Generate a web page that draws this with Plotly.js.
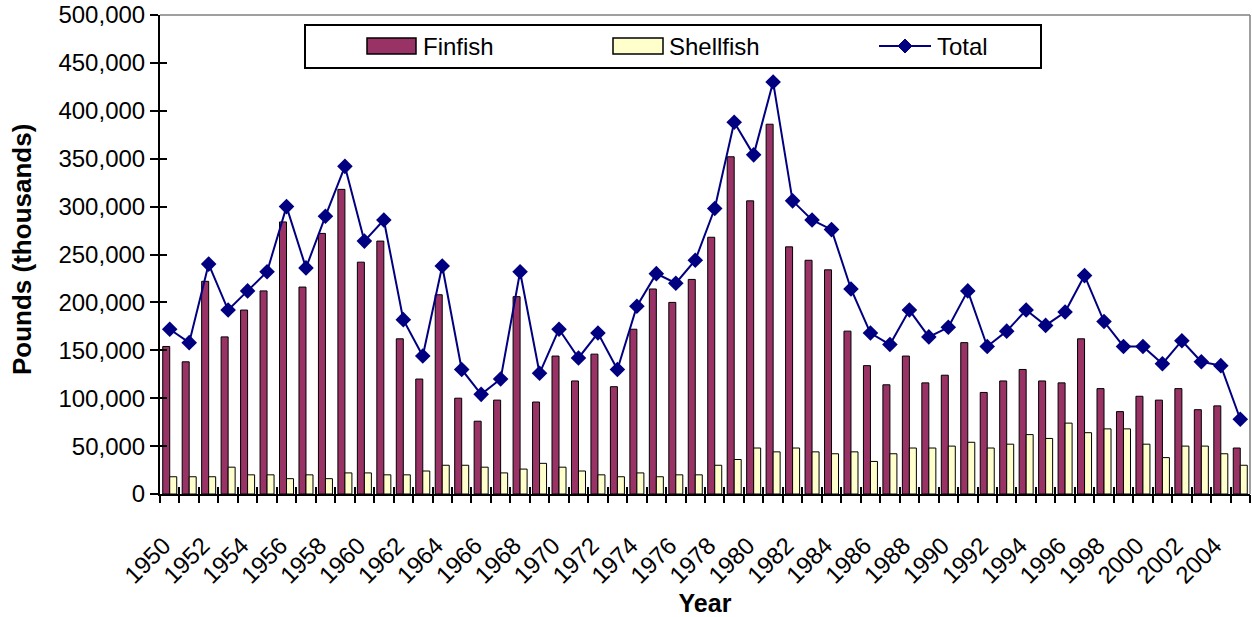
<!DOCTYPE html>
<html>
<head>
<meta charset="utf-8">
<script src="https://cdn.plot.ly/plotly-3.0.1.min.js"></script>
<style>
  html, body { margin: 0; padding: 0; background: #fff; }
  #graph { width: 1252px; height: 617px; }
</style>
</head>
<body>
<div id="graph"></div>
<script>
// landings, pounds (thousands)
var years = [1950, 1951, 1952, 1953, 1954, 1955, 1956, 1957, 1958, 1959,
  1960, 1961, 1962, 1963, 1964, 1965, 1966, 1967, 1968, 1969,
  1970, 1971, 1972, 1973, 1974, 1975, 1976, 1977, 1978, 1979,
  1980, 1981, 1982, 1983, 1984, 1985, 1986, 1987, 1988, 1989,
  1990, 1991, 1992, 1993, 1994, 1995, 1996, 1997, 1998, 1999,
  2000, 2001, 2002, 2003, 2004, 2005];

var finfish = [154000, 138000, 222000, 164000, 192000, 212000, 284000, 216000, 272000, 318000,
  242000, 264000, 162000, 120000, 208000, 100000, 76000, 98000, 206000, 96000,
  144000, 118000, 146000, 112000, 172000, 214000, 200000, 224000, 268000, 352000,
  306000, 386000, 258000, 244000, 234000, 170000, 134000, 114000, 144000, 116000,
  124000, 158000, 106000, 118000, 130000, 118000, 116000, 162000, 110000, 86000,
  102000, 98000, 110000, 88000, 92000, 48000];

var shellfish = [18000, 18000, 18000, 28000, 20000, 20000, 16000, 20000, 16000, 22000,
  22000, 20000, 20000, 24000, 30000, 30000, 28000, 22000, 26000, 32000,
  28000, 24000, 20000, 18000, 22000, 18000, 20000, 20000, 30000, 36000,
  48000, 44000, 48000, 44000, 42000, 44000, 34000, 42000, 48000, 48000,
  50000, 54000, 48000, 52000, 62000, 58000, 74000, 64000, 68000, 68000,
  52000, 38000, 50000, 50000, 42000, 30000];

var total = [172000, 158000, 240000, 192000, 212000, 232000, 300000, 236000, 290000, 342000,
  264000, 286000, 182000, 144000, 238000, 130000, 104000, 120000, 232000, 126000,
  172000, 142000, 168000, 130000, 196000, 230000, 220000, 244000, 298000, 388000,
  354000, 430000, 306000, 286000, 276000, 214000, 168000, 156000, 192000, 164000,
  174000, 212000, 154000, 170000, 192000, 176000, 190000, 228000, 180000, 154000,
  154000, 136000, 160000, 138000, 134000, 78000];

var fnt = 'Liberation Sans, Arial, sans-serif';
var finColor = '#993366', shellColor = '#FFFFCC', totColor = '#000080';

var trace1 = {
  x: years, y: finfish, name: 'Finfish', type: 'bar',
  marker: {color: finColor, line: {color: '#000000', width: 1}}
};

var trace2 = {
  x: years, y: shellfish, name: 'Shellfish', type: 'bar',
  marker: {color: shellColor, line: {color: '#000000', width: 1}}
};

var trace3 = {
  x: years, y: total, name: 'Total', type: 'scatter', mode: 'lines+markers',
  line: {color: totColor, width: 2},
  marker: {symbol: 'diamond', size: 12, color: totColor}
};

// empty traces so the overlay axes (cross ticks) get drawn
var tickX2 = {x: [], y: [], xaxis: 'x2', yaxis: 'y', type: 'scatter', showlegend: false, hoverinfo: 'skip'};
var tickX3 = {x: [], y: [], xaxis: 'x3', yaxis: 'y', type: 'scatter', showlegend: false, hoverinfo: 'skip'};
var tickY2 = {x: [], y: [], xaxis: 'x', yaxis: 'y2', type: 'scatter', showlegend: false, hoverinfo: 'skip'};

var data = [trace1, trace2, trace3, tickX2, tickX3, tickY2];

// pixel -> paper helpers for the hand-made legend
var L = 160, R = 1250, T = 15, B = 494;
function px(x) { return (x - L) / (R - L); }
function py(y) { return (B - y) / (B - T); }

var legY = 46;
var shapes = [
  {type: 'line', xref: 'paper', yref: 'paper', x0: 0, x1: 1, y0: 1, y1: 1,
    line: {color: '#808080', width: 1.5}},
  {type: 'line', xref: 'paper', yref: 'paper', x0: 1, x1: 1, y0: 0, y1: 1,
    line: {color: '#808080', width: 1.5}},
  // legend box
  {type: 'rect', xref: 'paper', yref: 'paper', x0: px(305), x1: px(1041), y0: py(68), y1: py(25),
    line: {color: '#000000', width: 2}, fillcolor: '#ffffff'},
  {type: 'rect', xref: 'paper', yref: 'paper', x0: px(367), x1: px(416), y0: py(legY + 8), y1: py(legY - 8),
    line: {color: '#000000', width: 1.5}, fillcolor: finColor},
  {type: 'rect', xref: 'paper', yref: 'paper', x0: px(613), x1: px(663), y0: py(legY + 8), y1: py(legY - 8),
    line: {color: '#000000', width: 1.5}, fillcolor: shellColor},
  {type: 'line', xref: 'paper', yref: 'paper', x0: px(879), x1: px(931), y0: py(legY), y1: py(legY),
    line: {color: totColor, width: 2}},
  {type: 'path', xref: 'paper', yref: 'paper',
    path: 'M ' + px(905) + ' ' + py(legY - 7) + ' L ' + px(912) + ' ' + py(legY) +
          ' L ' + px(905) + ' ' + py(legY + 7) + ' L ' + px(898) + ' ' + py(legY) + ' Z',
    line: {color: totColor, width: 1}, fillcolor: totColor}
];

var annotations = [
  {text: 'Finfish', x: px(421), y: py(legY)},
  {text: 'Shellfish', x: px(667), y: py(legY)},
  {text: 'Total', x: px(935), y: py(legY)}
].map(function (a) {
  a.xref = 'paper'; a.yref = 'paper'; a.xanchor = 'left'; a.yanchor = 'middle';
  a.showarrow = false; a.font = {family: fnt, size: 24, color: '#000000'};
  return a;
});

// y axis title, placed by hand
annotations.push({
  text: '<b>Pounds (thousands)</b>', xref: 'paper', yref: 'paper',
  x: px(22), y: py(250), xanchor: 'center', yanchor: 'middle', textangle: -90,
  showarrow: false, font: {family: fnt, size: 26, color: '#000000'}
});

var layout = {
  width: 1252,
  height: 617,
  margin: {l: L, r: 1252 - R, t: T, b: 617 - B},
  paper_bgcolor: '#ffffff',
  plot_bgcolor: '#ffffff',
  font: {family: fnt, size: 24, color: '#000000'},
  barmode: 'group',
  bargap: 0.28,
  bargroupgap: 0,
  showlegend: false,
  xaxis: {
    type: 'linear',
    range: [1949.5, 2005.5],
    tick0: 1950, dtick: 2,
    ticks: '',
    tickangle: -45,
    ticklabelstandoff: 26,
    ticklabelshift: -6,
    showgrid: false, zeroline: false,
    showline: true, linecolor: '#000000', linewidth: 2,
    tickfont: {family: fnt, size: 24, color: '#000000'},
    title: {text: 'Year', font: {family: fnt, size: 25, color: '#000000', weight: 'bold'}, standoff: 14},
    fixedrange: true
  },
  xaxis2: {
    overlaying: 'x', anchor: 'y', type: 'linear',
    range: [1949.5, 2005.5], tick0: 1949.5, dtick: 1,
    ticks: 'outside', ticklen: 8, tickwidth: 2, tickcolor: '#000000',
    showticklabels: false, showgrid: false, zeroline: false, showline: false
  },
  xaxis3: {
    overlaying: 'x', anchor: 'y', type: 'linear',
    range: [1949.5, 2005.5], tick0: 1949.5, dtick: 1,
    ticks: 'inside', ticklen: 7, tickwidth: 2, tickcolor: '#000000',
    showticklabels: false, showgrid: false, zeroline: false, showline: false
  },
  yaxis: {
    range: [0, 500000],
    dtick: 50000,
    tickformat: ',d',
    ticks: 'outside', ticklen: 8, tickwidth: 2, tickcolor: '#000000',
    showgrid: false, zeroline: false,
    showline: true, linecolor: '#000000', linewidth: 2,
    tickfont: {family: fnt, size: 24, color: '#000000'},
    fixedrange: true
  },
  yaxis2: {
    overlaying: 'y', anchor: 'x',
    range: [0, 500000], dtick: 50000,
    ticks: 'inside', ticklen: 7, tickwidth: 2, tickcolor: '#000000',
    showticklabels: false, showgrid: false, zeroline: false, showline: false
  },
  shapes: shapes,
  annotations: annotations
};

Plotly.newPlot('graph', data, layout, {displayModeBar: false, staticPlot: true});
</script>
</body>
</html>
